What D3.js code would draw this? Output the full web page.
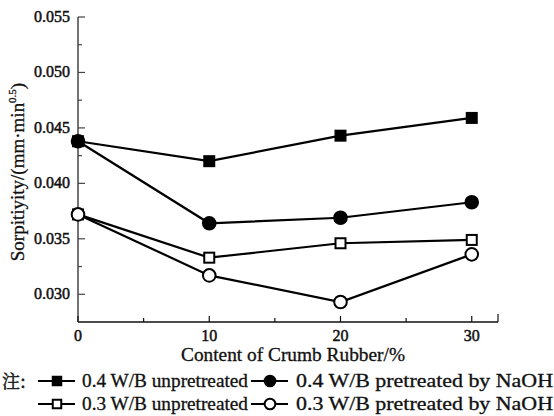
<!DOCTYPE html>
<html>
<head>
<meta charset="utf-8">
<script src="https://unpkg.com/d3@7/dist/d3.min.js"></script>
<style>
  body { margin: 0; background: #fff; }
</style>
</head>
<body>
<div id="chart"></div>
<script>
  var width = 554, height = 416;
  var serif = "'Liberation Serif'";

  // data
  var contents = [0, 10, 20, 30];
  var w4Unpretreated = [0.0438, 0.0420, 0.0443, 0.0459];
  var w4Naoh = [0.0438, 0.0364, 0.0369, 0.0383];
  var w3Unpretreated = [0.0372, 0.0333, 0.0346, 0.0349];
  var w3Naoh = [0.0372, 0.0317, 0.0293, 0.0336];
  var yTicks = [0.030, 0.035, 0.040, 0.045, 0.050, 0.055];
  var yMinor = [0.0325, 0.0375, 0.0425, 0.0475, 0.0525];
  var xTicks = [0, 10, 20, 30];
  var xMinor = [5, 15, 25];

  var series = [
    { name: "0.4 W/B unpretreated", values: w4Unpretreated, shape: "square", fill: "#000" },
    { name: "0.4 W/B pretreated by NaOH", values: w4Naoh, shape: "circle", fill: "#000" },
    { name: "0.3 W/B unpretreated", values: w3Unpretreated, shape: "square", fill: "#fff" },
    { name: "0.3 W/B pretreated by NaOH", values: w3Naoh, shape: "circle", fill: "#fff" }
  ];

  var x = d3.scaleLinear().domain([0, 32]).range([78, 498]);
  var y = d3.scaleLinear().domain([0.0275, 0.055]).range([322, 17]);

  var svg = d3.select("#chart").append("svg")
    .attr("width", width).attr("height", height);

  // axes lines
  svg.append("line").attr("x1", x(0)).attr("x2", x(0)).attr("y1", y(0.055)).attr("y2", y(0.0275))
    .attr("stroke", "#444").attr("stroke-width", 1.5);
  svg.append("line").attr("x1", x(0)).attr("x2", x(32)).attr("y1", y(0.0275)).attr("y2", y(0.0275))
    .attr("stroke", "#111").attr("stroke-width", 1.5);

  // y ticks (pointing inward)
  svg.selectAll(".ytick").data(yTicks).enter().append("line")
    .attr("x1", x(0)).attr("x2", x(0) + 7)
    .attr("y1", function(d) { return y(d); }).attr("y2", function(d) { return y(d); })
    .attr("stroke", "#444").attr("stroke-width", 1.2);
  svg.selectAll(".yminor").data(yMinor).enter().append("line")
    .attr("x1", x(0)).attr("x2", x(0) + 4)
    .attr("y1", function(d) { return y(d); }).attr("y2", function(d) { return y(d); })
    .attr("stroke", "#444").attr("stroke-width", 1.2);
  svg.selectAll(".ylab").data(yTicks).enter().append("text")
    .attr("x", 70).attr("y", function(d) { return y(d) + 5; })
    .attr("text-anchor", "end").attr("font-size", 16)
    .style("font-family", serif).attr("fill", "#111")
    .attr("stroke", "#111").attr("stroke-width", 0.5)
    .text(function(d) { return d3.format(".3f")(d); });

  // x ticks
  svg.selectAll(".xtick").data(xTicks.concat([32])).enter().append("line")
    .attr("x1", function(d) { return x(d); }).attr("x2", function(d) { return x(d); })
    .attr("y1", y(0.0275)).attr("y2", function(d) { return y(0.0275) - (d == 32 ? 8 : 6); })
    .attr("stroke", "#111").attr("stroke-width", 1.2);
  svg.selectAll(".xminor").data(xMinor).enter().append("line")
    .attr("x1", function(d) { return x(d); }).attr("x2", function(d) { return x(d); })
    .attr("y1", y(0.0275)).attr("y2", y(0.0275) - 4)
    .attr("stroke", "#111").attr("stroke-width", 1.2);
  svg.selectAll(".xlab").data(xTicks).enter().append("text")
    .attr("x", function(d) { return x(d); }).attr("y", 341)
    .attr("text-anchor", "middle").attr("font-size", 16)
    .style("font-family", serif).attr("fill", "#111")
    .attr("stroke", "#111").attr("stroke-width", 0.5)
    .text(function(d) { return d; });

  // axis titles
  svg.append("text").attr("x", 293).attr("y", 361).attr("text-anchor", "middle")
    .attr("font-size", 18).attr("textLength", 224).attr("lengthAdjust", "spacingAndGlyphs")
    .style("font-family", serif).attr("fill", "#111")
    .attr("stroke", "#111").attr("stroke-width", 0.3)
    .text("Content of Crumb Rubber/%");

  var yt = svg.append("text").attr("transform", "translate(24,172) rotate(-90)")
    .attr("text-anchor", "middle").attr("font-size", 19)
    .style("font-family", serif).attr("fill", "#111")
    .attr("stroke", "#111").attr("stroke-width", 0.3);
  yt.append("tspan").text("Sorpitiyity/(mm·min");
  yt.append("tspan").attr("font-size", 11).attr("dy", -8).text("0.5");
  yt.append("tspan").attr("dy", 8).text(")");

  // lines and markers
  var line = d3.line()
    .x(function(d, i) { return x(contents[i]); })
    .y(function(d) { return y(d); });

  function drawMarker(g, shape, fill, cx, cy, k) {
    if (shape == "square") {
      g.append("rect").attr("x", cx - 5 * k).attr("y", cy - 5 * k)
        .attr("width", 10 * k).attr("height", 10 * k)
        .attr("fill", fill).attr("stroke", "#000").attr("stroke-width", 2);
    } else {
      g.append("circle").attr("cx", cx).attr("cy", cy).attr("r", 6.3 * k)
        .attr("fill", fill).attr("stroke", "#000").attr("stroke-width", 2);
    }
  }

  series.forEach(function(s) {
    svg.append("path").attr("d", line(s.values))
      .attr("fill", "none").attr("stroke", "#000").attr("stroke-width", 2.2);
  });
  series.forEach(function(s) {
    var g = svg.append("g");
    s.values.forEach(function(v, i) {
      drawMarker(g, s.shape, s.fill, x(contents[i]), y(v), 1);
    });
  });

  // legend
  svg.append("text").attr("x", 2).attr("y", 388).attr("font-size", 18)
    .attr("fill", "#111").attr("stroke", "#111").attr("stroke-width", 0.4)
    .style("font-family", "'Noto Serif CJK SC'").text("注:");

  var legendPos = [
    { lx: 38, tx: 82, cy: 381, w: 166 },
    { lx: 251, tx: 296, cy: 381, w: 257 },
    { lx: 38, tx: 82, cy: 404, w: 166 },
    { lx: 251, tx: 296, cy: 404, w: 257 }
  ];
  series.forEach(function(s, i) {
    var p = legendPos[i];
    var g = svg.append("g");
    g.append("line").attr("x1", p.lx).attr("x2", p.lx + 37).attr("y1", p.cy).attr("y2", p.cy)
      .attr("stroke", "#000").attr("stroke-width", 2.2);
    drawMarker(g, s.shape, s.fill, p.lx + 19, p.cy, 0.85);
    g.append("text").attr("x", p.tx).attr("y", p.cy + 6).attr("font-size", 18)
      .attr("textLength", p.w).attr("lengthAdjust", "spacingAndGlyphs")
      .style("font-family", serif).attr("fill", "#111")
      .attr("stroke", "#111").attr("stroke-width", 0.3)
      .text(s.name);
  });
</script>
</body>
</html>
